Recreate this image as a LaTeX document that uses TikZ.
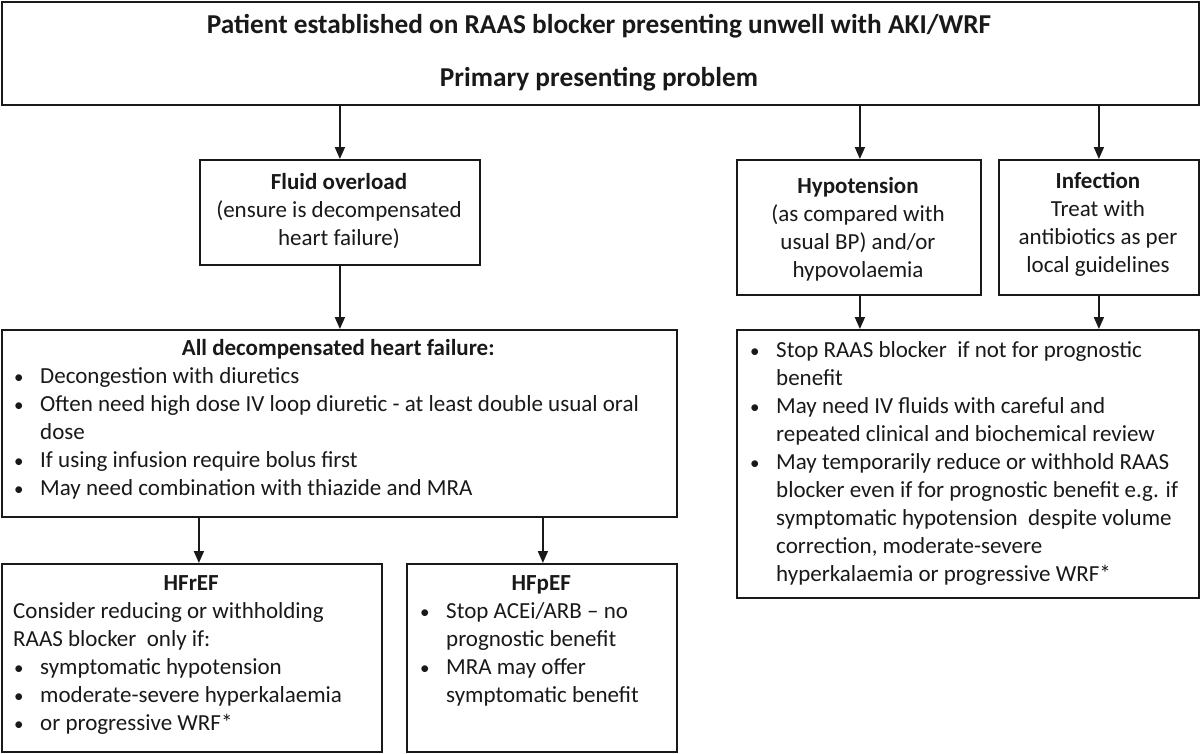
\documentclass[tikz,border=0pt]{standalone}
\usepackage{fontspec}
\setmainfont{Carlito}
\usetikzlibrary{arrows.meta}
\newcommand\mybul{\makebox[27pt][l]{\hspace{1pt}{\fontsize{19}{19}\selectfont\textbullet}}}
\newcommand\myind{\hspace*{27pt}}
\newcommand\blockc[2]{\begin{minipage}[t]{#1}\centering #2\end{minipage}}
\newcommand\blockl[2]{\begin{minipage}[t]{#1}\raggedright #2\end{minipage}}
\begin{document}
\begin{tikzpicture}[x=1pt,y=-1pt,
  box/.style={draw=black!90, line width=1.8pt, inner sep=0pt, anchor=north west},
  txt/.style={inner sep=0pt, text=black!90, font=\fontsize{23}{28}\selectfont},
  ttl/.style={inner sep=0pt, anchor=base, text=black!90, font=\fontsize{27.3}{28}\selectfont\bfseries},
  arr/.style={draw=black!90, line width=1.8pt, -{Triangle[length=12pt,width=10pt]}}]
\useasboundingbox[fill=white] (0,0) rectangle (1200,753);

% boxes
\node[box, minimum width=1197pt, minimum height=103pt] (top) at (1,1) {};
\node[box, minimum width=280pt, minimum height=105pt] (fluid) at (199,159) {};
\node[box, minimum width=244pt, minimum height=135pt] (hypo) at (736,159) {};
\node[box, minimum width=200pt, minimum height=135pt] (infect) at (998,159) {};
\node[box, minimum width=675pt, minimum height=187pt] (decomp) at (1,329) {};
\node[box, minimum width=462pt, minimum height=268pt] (right) at (736,329) {};
\node[box, minimum width=380pt, minimum height=188pt] (hfref) at (1,563) {};
\node[box, minimum width=270pt, minimum height=188pt] (hfpef) at (406,563) {};

% texts
\node[ttl] (t1) at (599,33) {Patient established on RAAS blocker presenting unwell with AKI/WRF};
\node[ttl] (t2) at (599,86) {Primary presenting problem};

\node[txt, anchor=base] (fluidt) at (339,189) {\blockc{400pt}{\textbf{Fluid overload}\\(ensure is decompensated\\heart failure)}};
\node[txt, anchor=base] (hypot) at (858,193) {\blockc{400pt}{\textbf{Hypotension}\\(as compared with\\usual BP) and/or\\hypovolaemia}};
\node[txt, anchor=base] (inft) at (1098,188) {\blockc{400pt}{\textbf{Infection}\\Treat with\\antibiotics as per\\local guidelines}};

\node[txt, anchor=base west] (decompt) at (13,355) {\blockl{650pt}{%
  \makebox[650pt][c]{\textbf{All decompensated heart failure:}}\\
  \mybul Decongestion with diuretics\\
  \mbox{\mybul Often need high dose IV loop diuretic - at least double usual oral}\\
  \myind dose\\
  \mybul If using infusion require bolus first\\
  \mybul May need combination with thiazide and MRA}};

\node[txt, anchor=base west] (rightt) at (749,357) {\blockl{470pt}{%
  \mybul Stop RAAS blocker\ \ if not for prognostic\\
  \myind benefit\\
  \mybul May need IV fluids with careful and\\
  \myind repeated clinical and biochemical review\\
  \mybul May temporarily reduce or withhold RAAS\\
  \myind \mbox{blocker even if for prognostic benefit e.g. if}\\
  \myind symptomatic hypotension\ \ despite volume\\
  \myind correction, moderate-severe\\
  \myind hyperkalaemia or progressive WRF*}};

\node[txt, anchor=base west] (hfreft) at (13,590) {\blockl{356pt}{%
  \makebox[356pt][c]{\textbf{HFrEF}}\\
  Consider reducing or withholding\\
  RAAS blocker\ \ only if:\\
  \mybul symptomatic hypotension\\
  \mybul moderate-severe hyperkalaemia\\
  \mybul or progressive WRF*}};

\node[txt, anchor=base west] (hfpeft) at (419,590) {\blockl{244pt}{%
  \makebox[244pt][c]{\textbf{HFpEF}}\\
  \mybul Stop ACEi/ARB -- no\\
  \myind prognostic benefit\\
  \mybul MRA may offer\\
  \myind symptomatic benefit}};

% connectors
\draw[arr] (fluid.north |- top.south) -- (fluid.north);
\draw[arr] ([xshift=1pt]hypo.north |- top.south) -- ([xshift=1pt]hypo.north);
\draw[arr] (infect.north |- top.south) -- (infect.north);
\draw[arr] (fluid.south) -- (fluid.south |- decomp.north);
\draw[arr] ([xshift=1pt]hypo.south) -- ([xshift=1pt]hypo.south |- right.north);
\draw[arr] (infect.south) -- (infect.south |- right.north);
\draw[arr] ([xshift=7pt]hfref.north |- decomp.south) -- ([xshift=7pt]hfref.north);
\draw[arr] ([xshift=1pt]hfpef.north |- decomp.south) -- ([xshift=1pt]hfpef.north);
\end{tikzpicture}
\end{document}
